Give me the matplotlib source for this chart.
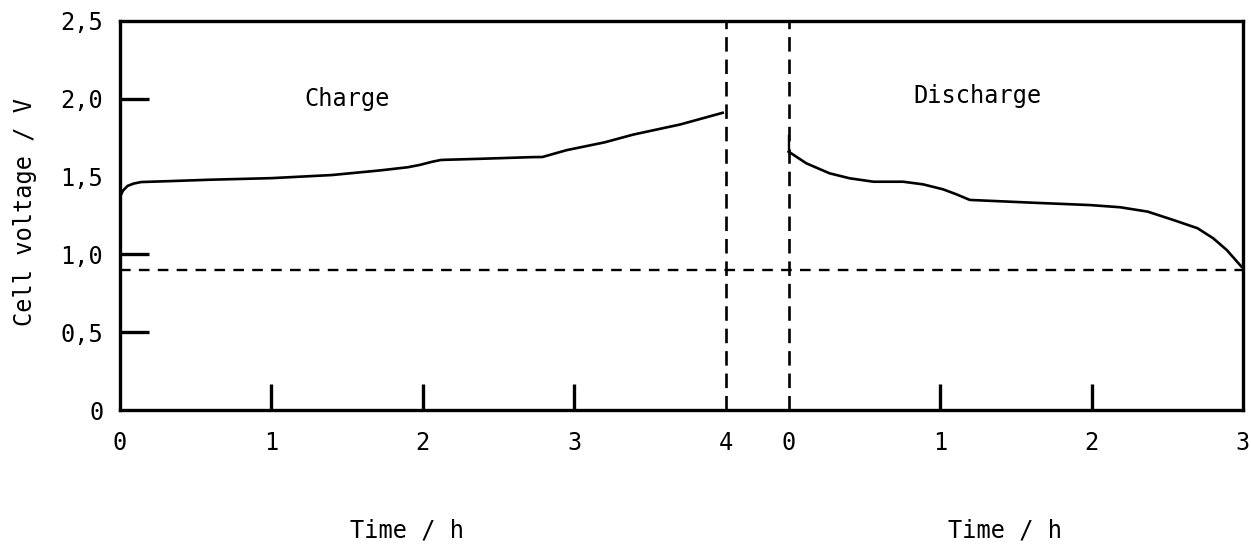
import matplotlib
matplotlib.use("Agg")
import matplotlib.pyplot as plt
import numpy as np

# ---- data ----
charge_t = [0.0, 0.02, 0.05, 0.09, 0.14, 0.3, 0.6, 1.0, 1.4, 1.72, 1.9, 1.98, 2.06, 2.12,
            2.4, 2.72, 2.79, 2.95, 3.2, 3.39, 3.7, 3.98]
charge_v = [1.37, 1.41, 1.44, 1.455, 1.465, 1.47, 1.48, 1.49, 1.51, 1.54, 1.56, 1.575, 1.595, 1.607,
            1.615, 1.625, 1.626, 1.67, 1.72, 1.77, 1.835, 1.91]

discharge_t = [0.0, 0.117, 0.27, 0.403, 0.56, 0.756, 0.888, 1.02, 1.108, 1.196, 1.615,
               1.99, 2.188, 2.37, 2.54, 2.70, 2.804, 2.893, 2.99]
discharge_v = [1.66, 1.585, 1.521, 1.489, 1.467, 1.467, 1.450, 1.418, 1.386, 1.350, 1.332,
               1.317, 1.303, 1.275, 1.221, 1.168, 1.103, 1.028, 0.921]

cutoff_v = 0.9
charge_end = 4.0
gap = 0.416  # offset between charge end and discharge start (hours of axis)
discharge_end = 3.0

charge_ticks = [0, 1, 2, 3, 4]
discharge_ticks = [0, 1, 2, 3]
y_ticks = [0, 0.5, 1.0, 1.5, 2.0, 2.5]
y_ticklabels = ["0", "0,5", "1,0", "1,5", "2,0", "2,5"]
y_ticks_marked = [0.5, 1.0, 2.0]

# ---- figure ----
FONT = "DejaVu Sans Mono"
plt.rcParams['font.family'] = [FONT]
fig = plt.figure(figsize=(12.51, 5.45), dpi=100)
ax = fig.add_axes([0.0959, 0.2477, 0.8977, 0.7138])

d0 = charge_end + gap
xmax = d0 + discharge_end

ax.plot(charge_t, charge_v, color="black", lw=1.9, solid_joinstyle="round")
ax.plot(np.array(discharge_t) + d0, discharge_v, color="black", lw=1.9, solid_joinstyle="round")

ax.plot([0, xmax], [cutoff_v, cutoff_v], color="black", lw=1.7, linestyle=(0, (4.5, 3.5)))
ax.plot([charge_end, charge_end], [0, 2.5], color="black", lw=1.9, linestyle=(0, (5.5, 3.0)))
ax.plot([d0, d0], [0, 2.5], color="black", lw=1.9, linestyle=(0, (5.5, 3.0)))
ax.plot([d0, d0], [discharge_v[0], discharge_v[0] + 0.1], color="black", lw=1.7)

ax.set_xlim(0, xmax)
ax.set_ylim(0, 2.5)

for s in ax.spines.values():
    s.set_linewidth(2.4)

# x ticks
xt = list(charge_ticks) + [d0 + t for t in discharge_ticks]
xl = [str(t) for t in charge_ticks] + [str(t) for t in discharge_ticks]
ax.set_xticks(xt)
ax.set_xticklabels(xl)
ax.set_yticks(y_ticks)
ax.set_yticklabels(y_ticklabels)
ax.tick_params(axis="x", direction="in", length=19, width=2.4, pad=15, labelsize=17)
ax.tick_params(axis="y", direction="in", length=21, width=2.4, pad=12, labelsize=17)
# hide ticks at the edges / at dashed lines
for i, t in enumerate(ax.xaxis.get_major_ticks()):
    if xt[i] in (0, charge_end, d0, xmax):
        t.tick1line.set_visible(False)
for i, t in enumerate(ax.yaxis.get_major_ticks()):
    if y_ticks[i] not in y_ticks_marked:
        t.tick1line.set_visible(False)

ax.text(1.5, 2.0, "Charge", fontsize=17, ha="center", va="center")
ax.text(d0 + 1.25, 2.02, "Discharge", fontsize=17, ha="center", va="center")

fig.text(25 / 1251, 1 - 212 / 545, "Cell voltage / V", rotation=90, fontsize=17,
         ha="center", va="center")
fig.text(407 / 1251, 1 - 530 / 545, "Time / h", fontsize=17, ha="center", va="center")
fig.text(1005 / 1251, 1 - 530 / 545, "Time / h", fontsize=17, ha="center", va="center")

fig.savefig("out.png", dpi=100)
